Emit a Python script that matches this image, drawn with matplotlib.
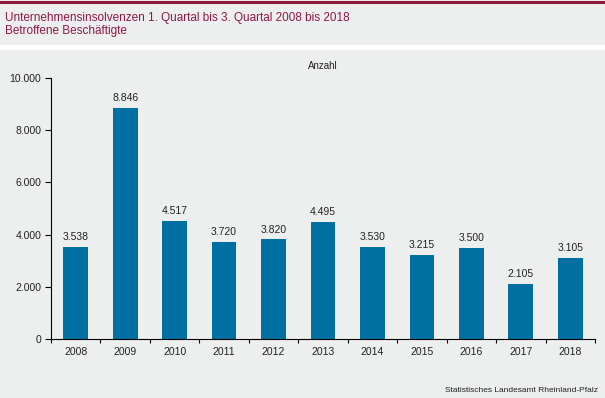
import matplotlib
matplotlib.use("Agg")
import matplotlib.pyplot as plt
from matplotlib.lines import Line2D

years = ["2008", "2009", "2010", "2011", "2012", "2013", "2014", "2015", "2016", "2017", "2018"]
values = [3538, 8846, 4517, 3720, 3820, 4495, 3530, 3215, 3500, 2105, 3105]
labels = ["3.538", "8.846", "4.517", "3.720", "3.820", "4.495", "3.530", "3.215", "3.500", "2.105", "3.105"]
yticks = [0, 2000, 4000, 6000, 8000, 10000]
ytick_labels = ["0", "2.000", "4.000", "6.000", "8.000", "10.000"]

bg = "#EDEEEE"
plt.rcParams['font.family'] = ['Liberation Sans', 'DejaVu Sans']

fig = plt.figure(figsize=(6.05, 3.98), dpi=100, facecolor=bg)
ax = fig.add_axes([51/605, 1-339/398, 544/605, 261/398])
ax.set_facecolor(bg)

x = list(range(len(years)))
ax.bar(x, values, width=0.5, color="#0070A3", zorder=2)
for xi, v, lab in zip(x, values, labels):
    ax.text(xi, v + 180, lab, ha="center", va="bottom", fontsize=7.5, color="#222222")

ax.set_xlim(-0.5, len(years) - 0.5)
ax.set_ylim(0, 10000)
ax.set_yticks(yticks)
ax.set_yticklabels(ytick_labels, fontsize=7.5, color="#222222")
ax.set_xticks(x)
ax.set_xticklabels(years, fontsize=7.5, color="#222222")
ax.tick_params(axis="x", length=0, pad=6)
ax.tick_params(axis="y", length=4, width=0.8, pad=3, direction="out")
ax.set_xticks([i - 0.5 for i in range(len(years) + 1)], minor=True)
ax.tick_params(axis="x", which="minor", length=3, width=0.8, direction="out")
for s in ["top", "right"]:
    ax.spines[s].set_visible(False)
ax.spines["left"].set_linewidth(0.8)
ax.spines["bottom"].set_linewidth(0.8)

fig.add_artist(Line2D([0, 1], [1 - 1.5/398, 1 - 1.5/398], color="#8B1A3A", linewidth=2.2, transform=fig.transFigure))
fig.add_artist(Line2D([0, 1], [1 - 46.5/398, 1 - 46.5/398], color="white", linewidth=3.6, transform=fig.transFigure))
fig.text(5/605, 1 - 18/398, "Unternehmensinsolvenzen 1. Quartal bis 3. Quartal 2008 bis 2018",
         fontsize=8.5, color="#8B1A4A", va="center", ha="left")
fig.text(5/605, 1 - 31/398, "Betroffene Beschäftigte",
         fontsize=8.5, color="#8B1A4A", va="center", ha="left")
fig.text(323/605, 1 - 66/398, "Anzahl", fontsize=7, color="#222222", ha="center", va="center")
fig.text(598/605, 1 - 390/398, "Statistisches Landesamt Rheinland-Pfalz", fontsize=6,
         color="#222222", ha="right", va="center")

fig.savefig("out.png", dpi=100, facecolor=bg)
